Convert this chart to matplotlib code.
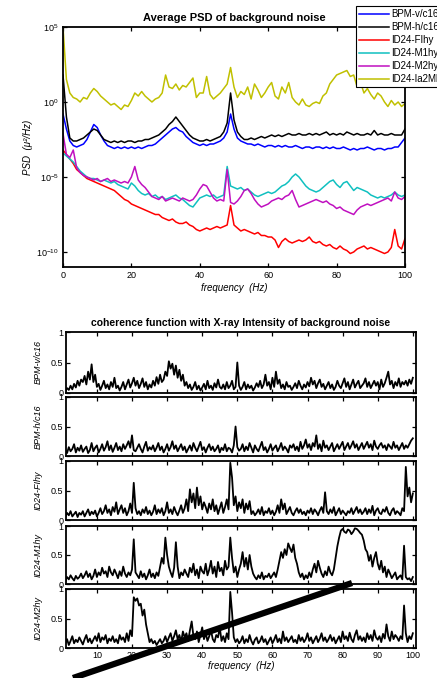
import numpy as np
import matplotlib
matplotlib.use("Agg")
import matplotlib.pyplot as plt
from matplotlib.lines import Line2D

plt.rcParams['font.family'] = ['Liberation Sans', 'DejaVu Sans']
plt.rcParams['mathtext.fontset'] = 'custom'
plt.rcParams['mathtext.rm'] = 'Liberation Sans'
plt.rcParams['mathtext.it'] = 'Liberation Sans:italic'

# ---------------- PSD data (log10 of PSD), f = 0..100 Hz ----------------
psd_freq = list(range(0, 101))
psd_bpm_v = [-0.8, -1.8, -2.6, -2.9, -3.0, -2.9, -2.8, -2.5, -2.0, -1.5, -1.7, -2.2, -2.6, -2.9, -3.0, -3.1, -3.0, -3.1, -3.0, -3.1,
             -3.0, -3.1, -3.0, -3.1, -3.0, -2.9, -2.9, -2.8, -2.6, -2.4, -2.2, -2.0, -1.8, -1.7, -1.9, -2.0, -2.3, -2.5, -2.7, -2.8,
             -2.9, -2.8, -2.9, -2.8, -2.8, -2.7, -2.6, -2.4, -2.0, -0.8, -1.8, -2.4, -2.6, -2.7, -2.8, -2.8, -2.9, -2.8, -2.9, -3.0,
             -2.9, -2.9, -3.0, -2.9, -3.0, -2.9, -3.0, -3.0, -2.9, -3.0, -3.1, -3.0, -3.0, -3.1, -3.0, -3.0, -3.1, -3.0, -3.1, -3.0,
             -3.1, -3.1, -3.0, -3.1, -3.2, -3.1, -3.2, -3.1, -3.1, -3.0, -3.1, -3.2, -3.1, -3.1, -3.2, -3.1, -3.1, -3.0, -3.0, -2.7, -2.4]
psd_bpm_h = [1.8, -1.0, -2.4, -2.6, -2.6, -2.5, -2.4, -2.2, -2.0, -1.8, -1.9, -2.2, -2.5, -2.6, -2.7, -2.6, -2.7, -2.6, -2.7, -2.6,
             -2.6, -2.7, -2.6, -2.6, -2.5, -2.5, -2.4, -2.3, -2.2, -2.0, -1.8, -1.5, -1.3, -1.0, -1.3, -1.6, -1.9, -2.2, -2.4, -2.5,
             -2.6, -2.6, -2.5, -2.6, -2.5, -2.4, -2.3, -2.0, -1.4, 0.6, -1.2, -2.0, -2.3, -2.5, -2.5, -2.4, -2.5, -2.4, -2.3, -2.4,
             -2.3, -2.2, -2.3, -2.2, -2.3, -2.2, -2.1, -2.2, -2.2, -2.1, -2.2, -2.2, -2.1, -2.2, -2.1, -2.2, -2.1, -2.0, -2.2, -2.1,
             -2.2, -2.1, -2.2, -2.0, -2.1, -2.2, -2.1, -2.2, -2.2, -2.1, -2.2, -1.9, -2.2, -2.1, -2.2, -2.2, -2.1, -2.2, -2.2, -2.2, -1.8]
psd_fihy = [-3.2, -3.5, -3.8, -4.1, -4.5, -4.7, -4.9, -5.1, -5.2, -5.3, -5.4, -5.5, -5.6, -5.7, -5.8, -5.9, -6.1, -6.3, -6.5, -6.6,
            -6.8, -6.9, -7.0, -7.1, -7.2, -7.3, -7.4, -7.5, -7.5, -7.7, -7.8, -7.9, -7.8, -8.0, -8.1, -8.1, -8.0, -8.2, -8.3, -8.5,
            -8.6, -8.5, -8.4, -8.5, -8.4, -8.3, -8.4, -8.3, -8.2, -6.9, -8.2, -8.4, -8.6, -8.5, -8.6, -8.7, -8.8, -8.7, -8.9, -8.9,
            -9.0, -9.0, -9.2, -9.7, -9.3, -9.1, -9.3, -9.4, -9.3, -9.2, -9.3, -9.2, -9.0, -9.3, -9.4, -9.3, -9.5, -9.6, -9.5, -9.7,
            -9.8, -9.6, -9.8, -9.9, -10.1, -10.0, -9.8, -9.7, -9.6, -9.8, -9.7, -9.8, -9.9, -10.0, -10.1, -10.0, -9.7, -8.5, -9.6, -9.8, -9.1]
psd_m1hy = [-3.4, -3.6, -3.8, -4.0, -4.3, -4.6, -4.8, -5.0, -5.1, -5.1, -5.2, -5.3, -5.2, -5.3, -5.4, -5.3, -5.5, -5.6, -5.7, -5.8,
            -5.4, -5.6, -5.9, -6.1, -6.2, -6.1, -6.3, -6.2, -6.4, -6.3, -6.5, -6.4, -6.3, -6.2, -6.4, -6.5, -6.7, -6.9, -7.0, -6.7,
            -6.4, -6.3, -6.2, -6.3, -6.2, -6.4, -6.3, -6.2, -4.3, -5.6, -5.7, -5.8, -5.7, -5.9, -5.8, -6.0, -6.2, -6.3, -6.2, -6.1,
            -6.0, -6.1, -6.0, -5.8, -5.6, -5.5, -5.3, -5.0, -4.8, -5.0, -5.3, -5.6, -5.8, -5.9, -6.0, -5.9, -5.7, -5.5, -5.3, -5.2,
            -5.5, -5.7, -5.4, -5.3, -5.6, -5.9, -5.7, -5.8, -5.9, -6.0, -6.2, -6.3, -6.4, -6.3, -6.4, -6.3, -6.2, -6.0, -6.2, -6.3, -6.2]
psd_m2hy = [-2.1, -3.5, -3.7, -3.2, -4.4, -4.7, -4.9, -5.0, -5.1, -5.2, -5.1, -5.3, -5.2, -5.1, -5.3, -5.2, -5.3, -5.4, -5.3, -5.4,
            -5.0, -4.3, -5.2, -5.5, -5.7, -6.0, -6.3, -6.4, -6.5, -6.3, -6.6, -6.5, -6.4, -6.5, -6.6, -6.4, -6.5, -6.6, -6.5, -6.2,
            -5.8, -5.5, -5.6, -6.0, -6.4, -6.6, -6.5, -6.6, -4.5, -6.7, -6.8, -6.6, -6.3, -5.9, -5.8, -6.1, -6.5, -6.8, -7.0, -6.9,
            -6.8, -6.6, -6.5, -6.4, -6.5, -6.3, -6.2, -5.9, -6.5, -7.0, -6.9, -6.8, -6.7, -6.6, -6.5, -6.6, -6.7, -6.6, -6.8, -6.9,
            -7.1, -7.0, -7.2, -7.3, -7.4, -7.5, -7.2, -7.0, -6.9, -6.8, -6.9, -6.8, -6.7, -6.6, -6.5, -6.4, -6.6, -6.0, -6.4, -6.5, -6.3]
psd_ia2m = [5.0, 1.5, 0.6, 0.3, 0.2, 0.0, 0.3, 0.2, 0.6, 0.9, 0.7, 0.4, 0.2, 0.0, -0.2, -0.1, -0.3, -0.5, -0.2, -0.3,
            0.1, 0.6, 0.4, 0.7, 0.4, 0.2, 0.0, 0.2, 0.3, 0.6, 1.8, 1.0, 0.9, 1.2, 0.8, 1.1, 1.0, 1.3, 1.6, 0.3,
            0.6, 0.6, 1.7, 0.5, 0.2, 0.4, 0.6, 0.9, 1.2, 2.3, 1.0, 0.3, 0.7, 0.5, 1.0, 0.2, 1.2, 0.8, 0.3, 0.6,
            1.0, 1.3, 0.4, 0.2, 1.0, 0.6, 1.3, 0.3, 0.0, -0.2, 0.2, -0.2, -0.3, -0.1, 0.0, -0.1, 0.4, 0.6, 1.2, 1.5,
            1.8, 1.9, 2.0, 2.1, 1.7, 1.8, 1.0, 1.3, 0.6, 0.9, 0.5, 0.2, 0.6, 0.4, 0.0, -0.3, 0.1, -0.2, 0.0, -0.3, -0.1]

psd_labels = ["BPM-v/c16", "BPM-h/c16", "ID24-FIhy", "ID24-M1hy", "ID24-M2hy", "ID24-Ia2Mhy"]
psd_colors = ["#0000ff", "#000000", "#ff0000", "#10c0c0", "#c010c0", "#c0c000"]

# ---------------- coherence data (x100), f = 1.0 .. 100.0 step 0.5 ----------------
coh_freq = [1.0 + 0.5 * i for i in range(199)]
coh_bpm_v = [3, 8, 5, 12, 6, 15, 9, 20, 12, 22, 18, 28, 14, 35, 22, 47, 18, 30, 10, 15,
             5, 12, 20, 8, 14, 6, 18, 10, 25, 8, 12, 4, 10, 18, 6, 14, 22, 9, 16, 25,
             12, 20, 8, 15, 24, 10, 18, 6, 14, 9, 20, 12, 26, 15, 30, 18, 22, 35, 28, 52,
             40, 48, 30, 45, 25, 38, 20, 30, 12, 18, 8, 14, 5, 10, 18, 6, 12, 4, 9, 15,
             6, 20, 8, 12, 5, 16, 9, 22, 10, 7, 14, 6, 18, 8, 12, 20, 6, 10, 50, 12,
             5, 10, 18, 6, 14, 8, 12, 4, 9, 16, 10, 20, 8, 14, 30, 12, 18, 6, 25, 10,
             35, 15, 22, 8, 14, 6, 18, 10, 12, 5, 10, 16, 8, 20, 12, 6, 14, 9, 18, 11,
             25, 14, 20, 8, 16, 22, 10, 15, 6, 12, 18, 8, 14, 5, 10, 20, 12, 8, 16, 24,
             10, 18, 6, 14, 22, 9, 15, 20, 8, 12, 16, 24, 10, 18, 8, 14, 20, 12, 18, 6,
             22, 10, 16, 25, 35, 14, 20, 8, 18, 12, 24, 10, 18, 14, 20, 12, 22, 15, 25]
coh_bpm_h = [10, 5, 15, 8, 12, 20, 6, 14, 9, 18, 7, 12, 16, 5, 10, 22, 8, 14, 18, 6,
             12, 20, 9, 15, 25, 10, 18, 7, 14, 22, 10, 16, 8, 20, 12, 18, 25, 14, 35, 10,
             8, 14, 20, 12, 6, 16, 24, 9, 15, 11, 18, 8, 14, 22, 10, 16, 6, 12, 20, 9,
             15, 25, 12, 18, 8, 14, 20, 10, 16, 6, 12, 18, 9, 22, 14, 8, 16, 24, 10, 15,
             6, 14, 20, 10, 16, 8, 12, 18, 6, 14, 10, 20, 8, 14, 12, 6, 18, 50, 15, 9,
             12, 20, 8, 16, 10, 22, 14, 6, 18, 12, 8, 16, 24, 10, 15, 6, 12, 20, 9, 14,
             18, 8, 14, 22, 10, 16, 12, 6, 18, 14, 20, 10, 16, 8, 24, 12, 18, 28, 14, 20,
             10, 22, 16, 35, 12, 20, 8, 26, 14, 18, 10, 16, 22, 8, 14, 20, 12, 18, 24, 10,
             16, 22, 12, 18, 25, 14, 20, 10, 16, 22, 12, 18, 24, 14, 20, 10, 26, 16, 12, 18,
             22, 14, 18, 10, 20, 16, 12, 24, 14, 18, 10, 16, 22, 12, 18, 14, 20, 26, 30]
coh_fihy = [5, 12, 8, 15, 6, 10, 14, 5, 12, 9, 15, 6, 12, 18, 8, 14, 10, 16, 6, 12,
            20, 10, 15, 25, 12, 18, 8, 22, 14, 30, 10, 18, 25, 12, 20, 8, 15, 28, 12, 63,
            20, 10, 15, 8, 18, 12, 22, 10, 16, 8, 14, 25, 10, 18, 12, 20, 8, 15, 30, 12,
            18, 10, 22, 14, 8, 16, 25, 12, 20, 35, 15, 52, 30, 45, 20, 55, 25, 40, 18, 30,
            22, 12, 28, 18, 35, 15, 25, 10, 20, 30, 12, 22, 35, 18, 97, 72, 25, 40, 15, 30,
            20, 35, 12, 28, 18, 32, 10, 15, 8, 12, 18, 10, 22, 8, 15, 12, 20, 10, 16, 8,
            14, 25, 12, 35, 18, 28, 10, 16, 22, 12, 8, 15, 20, 12, 18, 10, 14, 8, 16, 12,
            20, 10, 18, 14, 8, 16, 22, 12, 47, 15, 10, 18, 12, 22, 8, 14, 20, 10, 16, 12,
            8, 15, 12, 20, 10, 16, 22, 12, 18, 10, 14, 20, 10, 18, 12, 24, 8, 16, 20, 12,
            10, 18, 14, 22, 12, 8, 16, 20, 10, 15, 12, 8, 20, 15, 90, 40, 55, 30, 45]
coh_m1hy = [5, 12, 8, 15, 10, 6, 14, 9, 12, 18, 10, 15, 22, 12, 18, 8, 14, 25, 12, 20,
            15, 28, 18, 22, 12, 30, 20, 15, 25, 18, 10, 22, 14, 30, 18, 12, 20, 15, 25, 77,
            20, 15, 10, 22, 12, 18, 8, 15, 25, 12, 18, 10, 20, 14, 30, 45, 35, 80, 50, 30,
            20, 12, 28, 72, 30, 10, 20, 15, 25, 18, 12, 28, 20, 35, 15, 25, 10, 30, 22, 18,
            35, 15, 25, 40, 18, 30, 12, 38, 22, 28, 15, 40, 25, 30, 80, 45, 20, 30, 12, 25,
            35, 55, 30, 45, 25, 50, 30, 18, 12, 8, 15, 10, 20, 8, 14, 12, 18, 10, 15, 20,
            12, 25, 40, 55, 45, 60, 50, 70, 62, 55, 68, 45, 35, 20, 12, 18, 8, 15, 10, 20,
            12, 25, 35, 20, 40, 28, 18, 12, 22, 15, 30, 20, 15, 25, 45, 65, 80, 92, 95, 90,
            88, 94, 92, 86, 90, 96, 95, 92, 88, 85, 75, 60, 55, 40, 50, 30, 45, 55, 35, 25,
            40, 20, 30, 12, 25, 18, 10, 15, 20, 8, 12, 15, 8, 66, 12, 8, 10, 5, 12]
coh_m2hy = [8, 15, 5, 12, 20, 8, 14, 10, 18, 12, 6, 15, 22, 10, 16, 8, 14, 20, 12, 25,
            10, 18, 14, 22, 8, 16, 12, 20, 10, 15, 8, 22, 14, 18, 10, 25, 12, 30, 20, 86,
            80, 84, 72, 75, 55, 65, 40, 25, 10, 15, 8, 12, 5, 10, 15, 8, 12, 20, 10, 18,
            25, 12, 20, 30, 15, 22, 10, 28, 18, 25, 12, 30, 45, 20, 15, 28, 10, 22, 35, 15,
            25, 12, 20, 30, 15, 10, 22, 18, 35, 12, 20, 10, 25, 15, 95, 60, 18, 10, 15, 8,
            12, 20, 8, 15, 10, 22, 12, 6, 14, 18, 8, 12, 20, 10, 15, 6, 12, 18, 8, 14,
            22, 10, 16, 8, 28, 12, 18, 10, 15, 20, 10, 14, 8, 22, 12, 18, 10, 15, 25, 12,
            18, 8, 14, 20, 10, 16, 25, 12, 18, 10, 15, 22, 12, 18, 8, 14, 20, 10, 28, 15,
            20, 12, 26, 15, 10, 22, 30, 14, 20, 12, 18, 10, 25, 15, 22, 12, 30, 18, 14, 20,
            10, 24, 16, 40, 20, 12, 28, 15, 22, 18, 12, 20, 15, 72, 25, 10, 20, 15, 25]
coh_labels = ["BPM-v/c16", "BPM-h/c16", "ID24-FIhy", "ID24-M1hy", "ID24-M2hy"]

W, H = 437, 678
fig = plt.figure(figsize=(W / 100, H / 100), dpi=100)

def rect(l, t, r, b):
    return [l / W, 1 - b / H, (r - l) / W, (b - t) / H]

# ---------------- top PSD plot ----------------
ax = fig.add_axes(rect(63, 27, 405, 267))
f = np.array(psd_freq)
for vals, lab, col in zip([psd_bpm_v, psd_bpm_h, psd_fihy, psd_m1hy, psd_m2hy, psd_ia2m],
                          psd_labels, psd_colors):
    ax.semilogy(f, 10.0 ** np.array(vals), color=col, lw=1.1, label=lab)
ax.set_xlim(0, 100)
ax.set_ylim(1e-11, 1e5)
ax.set_yticks([1e-10, 1e-5, 1e0, 1e5])
ax.set_yticklabels(["10$^{-10}$", "10$^{-5}$", "10$^{0}$", "10$^{5}$"])
ax.yaxis.set_minor_locator(matplotlib.ticker.NullLocator())
ax.set_xticks([0, 20, 40, 60, 80, 100])
ax.tick_params(direction='in', top=True, right=True, length=3, width=0.9, labelsize=6.5, pad=3)
for s in ax.spines.values():
    s.set_linewidth(1.3)
ax.set_title("Average PSD of background noise", fontsize=8, fontweight='bold', pad=4)
ax.set_xlabel("frequency  (Hz)", fontsize=7, style='italic', labelpad=2)
ax.set_ylabel("PSD  (μ²/Hz)", fontsize=7, style='italic', labelpad=2)
leg = ax.legend(loc='upper left', bbox_to_anchor=(356 / W, 1 - 6 / H), bbox_transform=fig.transFigure,
                fontsize=7, frameon=True, fancybox=False, framealpha=1, edgecolor='black',
                handlelength=3.0, labelspacing=0.3, borderpad=0.35, handletextpad=0.3, borderaxespad=0)
leg.get_frame().set_linewidth(0.8)

# ---------------- coherence panels ----------------
panel_px = [(332, 393), (397, 456), (461, 520), (526, 584), (589, 648)]
cf = np.array(coh_freq)
axes = []
for i, (vals, lab, (t, b)) in enumerate(zip([coh_bpm_v, coh_bpm_h, coh_fihy, coh_m1hy, coh_m2hy],
                                             coh_labels, panel_px)):
    a = fig.add_axes(rect(66, t, 416, b))
    a.plot(cf, np.array(vals) / 100.0, color='black', lw=1.3)
    a.set_xlim(1.2, 100.9)
    a.set_ylim(0, 1)
    a.set_yticks([0, 0.5, 1])
    a.set_yticklabels(["0", "0.5", "1"])
    a.set_xticks(range(10, 101, 10))
    a.tick_params(direction='in', top=True, right=True, length=3, width=0.9, labelsize=6.5, pad=2)
    if i < 4:
        a.tick_params(labelbottom=False)
    for s in a.spines.values():
        s.set_linewidth(1.3)
    a.set_ylabel(lab, fontsize=6.5, style='italic', labelpad=6)
    axes.append(a)
axes[0].set_title("coherence function with X-ray Intensity of background noise",
                  fontsize=7.5, fontweight='bold', pad=4)
axes[-1].set_xlabel("frequency  (Hz)", fontsize=7, style='italic', labelpad=1)

# thick pen stroke across the lower panels
fig.add_artist(Line2D([73 / W, 352 / W], [0.0, 1 - 583 / H], transform=fig.transFigure,
                      color='black', lw=4.5, solid_capstyle='butt'))

fig.savefig("out.png", dpi=100)
